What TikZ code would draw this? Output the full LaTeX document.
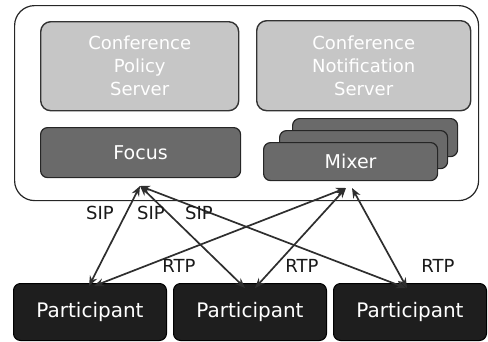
\documentclass[tikz,border=0pt]{standalone}
\usepackage{fontspec}
\setmainfont{DejaVu Sans}
\usepackage{tikz}
\usetikzlibrary{arrows.meta}
\usetikzlibrary{positioning}
\definecolor{lightbox}{HTML}{C6C6C6}
\definecolor{midbox}{HTML}{6A6A6A}
\definecolor{darkbox}{HTML}{1E1E1E}
\definecolor{wire}{HTML}{2E2E2E}
\tikzset{
    server/.style={
           rectangle,
           rounded corners=10pt,
           draw=black!80, line width=1.4pt,
           fill=lightbox,
           text=white,
           align=center,
           font=\fontsize{18}{23}\selectfont,
           inner sep=0pt,
           },
    engine/.style={
           rectangle,
           rounded corners=7pt,
           draw=black!85, line width=1.2pt,
           fill=midbox,
           text=white,
           font=\fontsize{19}{22}\selectfont,
           inner sep=0pt,
           },
    member/.style={
           rectangle,
           rounded corners=7pt,
           draw=black, line width=1pt,
           fill=darkbox,
           text=white,
           font=\fontsize{20}{22}\selectfont,
           minimum width=153pt, minimum height=57pt,
           inner sep=0pt,
           },
    proto/.style={
           font=\fontsize{18}{20}\selectfont,
           text=black!90,
           inner sep=0pt,
           },
    link/.style={
           <->, >={Stealth[length=10pt,width=8pt]},
           draw=wire, line width=1.7pt,
           },
}

\begin{document}
\begin{tikzpicture}[x=1pt,y=-1pt]

 \useasboundingbox (0,0) rectangle (488,341);

 % conference server box round everything on top
 \node[draw=black!85, line width=1.2pt, rounded corners=20pt,
  minimum width=464pt, minimum height=195pt,
  anchor=north west] (Conference) at (14,5) {};

 % policy and notification servers
 \node[server, minimum width=198pt, minimum height=89pt,
  anchor=north west] (Policy) at (40,21)
  {Conference\\Policy\\Server};
 \node[server, minimum width=214pt, minimum height=90pt,
  anchor=north west] (Notification) at (256,20)
  {Conference\\Notification\\Server};

 % focus
 \node[engine, minimum width=200pt, minimum height=50pt,
  anchor=north west] (Focus) at (40,127) {Focus};

 % stack of mixers, back to front
 \node[engine, minimum width=165pt, minimum height=38pt,
  anchor=north west] (Mixer3) at (292,118) {};
 \node[engine, minimum width=168pt, minimum height=38pt,
  anchor=north west] (Mixer2) at (279,130) {};
 \node[engine, minimum width=174pt, minimum height=38pt,
  anchor=north west] (Mixer) at (263,142) {Mixer};

 % participants
 \node[member, anchor=north west] (Participant1) at (13,283) {Participant};
 \node[member, right=6pt of Participant1] (Participant2) {Participant};
 \node[member, right=6pt of Participant2] (Participant3) {Participant};

 % where the wires meet below focus and mixer
 \coordinate (Focus hub) at (140,186);
 \coordinate (Mixer hub) at (346,188);

 % SIP wires
 \draw[link] (Focus hub) -- ([xshift=-1pt,yshift=-3pt]Participant1.north);
 \draw[link] (Focus hub) -- ([xshift=-5pt,yshift=-5pt]Participant2.north);
 \draw[link] (Focus hub) -- ([xshift=-4pt,yshift=-5pt]Participant3.north);

 % RTP wires
 \draw[link] (Mixer hub) -- ([xshift=4pt,yshift=-3pt]Participant1.north);
 \draw[link] (Mixer hub) -- ([xshift=5pt,yshift=-5pt]Participant2.north);
 \draw[link] ([xshift=6pt]Mixer hub) -- ([xshift=-3pt,yshift=-5pt]Participant3.north);

 % labels
 \node[proto] (SIP1) at (100,213) {SIP};
 \node[proto] (SIP2) at (151,213) {SIP};
 \node[proto] (SIP3) at (199,213) {SIP};
 \node[proto] (RTP1) at (179,266) {RTP};
 \node[proto] (RTP2) at (302,266) {RTP};
 \node[proto] (RTP3) at (438,266) {RTP};

\end{tikzpicture}
\end{document}
